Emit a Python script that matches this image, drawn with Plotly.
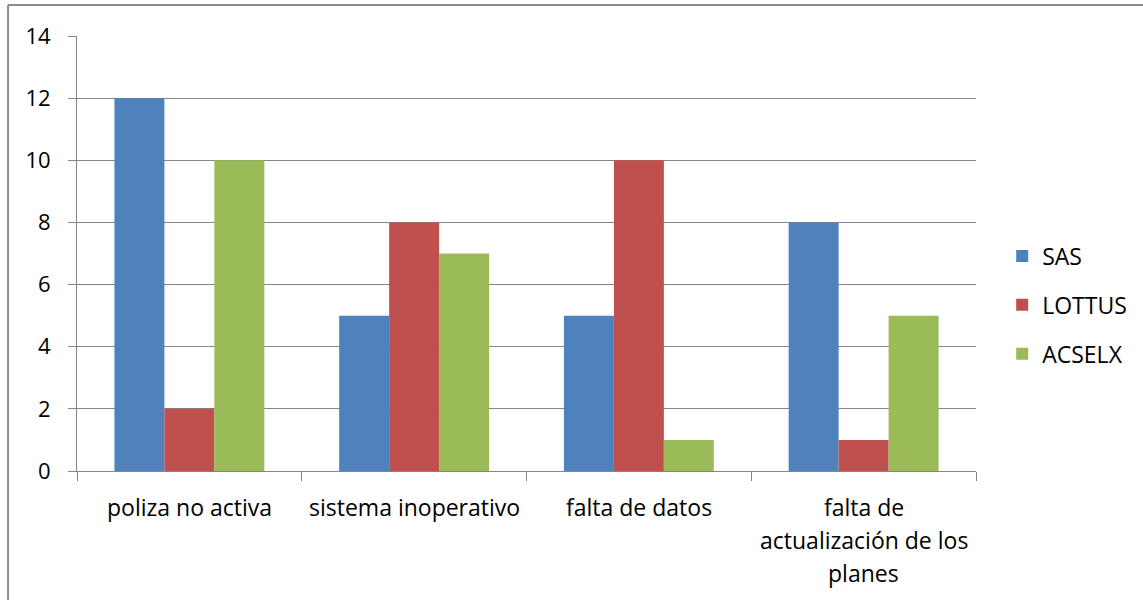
import plotly.graph_objects as go

categories = ["poliza no activa", "sistema inoperativo", "falta de datos",
              "falta de actualización de los planes"]
category_lines = [["poliza no activa"], ["sistema inoperativo"], ["falta de datos"],
                  ["falta de", "actualización de los", "planes"]]
sas = [12, 5, 5, 8]
lottus = [2, 8, 10, 1]
acselx = [10, 7, 1, 5]
series_names = ["SAS", "LOTTUS", "ACSELX"]
series_colors = ["#4F81BD", "#C0504D", "#9BBB59"]
y_ticks = [0, 2, 4, 6, 8, 10, 12, 14]

FONT = "Open Sans"
FS = 23
W, H = 1143, 600
L, R, T, B = 77, 977, 36, 471

fig = go.Figure()
for name, vals, col in zip(series_names, [sas, lottus, acselx], series_colors):
    fig.add_trace(go.Bar(name=name, x=categories, y=vals, marker_color=col,
                         marker_line_width=0, legendgroup=name))

annotations = []
for cat, lines in zip(categories, category_lines):
    for i, line in enumerate(lines):
        annotations.append(dict(x=cat, xref="x", y=0, yref="y", text=line,
                                showarrow=False, yanchor="middle",
                                yshift=-(36 + 33 * i),
                                font=dict(family=FONT, size=FS, color="#000000")))

def px_x(px):
    return (px - L) / (R - L)

def px_y(py):
    return (B - py) / (B - T)

shapes = [
    dict(type="line", xref="paper", yref="paper", x0=px_x(8), x1=px_x(8),
         y0=px_y(5), y1=px_y(605), line=dict(color="#8C8C8C", width=2)),
    dict(type="line", xref="paper", yref="paper", x0=px_x(8), x1=px_x(1150),
         y0=px_y(5), y1=px_y(5), line=dict(color="#8C8C8C", width=2)),
]

fig.update_layout(
    width=W, height=H,
    margin=dict(l=L, r=W - R, t=T, b=H - B, pad=0),
    paper_bgcolor="white", plot_bgcolor="white",
    barmode="group", bargap=0.333, bargroupgap=0,
    font=dict(family=FONT, size=FS, color="#000000"),
    showlegend=True,
    legend=dict(x=1.028, xanchor="left", y=px_y(305), yanchor="middle",
                tracegroupgap=16, font=dict(family=FONT, size=FS),
                itemwidth=30, bgcolor="rgba(0,0,0,0)"),
    annotations=annotations,
    shapes=shapes,
)
fig.update_xaxes(showticklabels=False, ticks="outside", tickson="boundaries",
                 ticklen=9, tickcolor="#868686", showline=True,
                 linecolor="#868686", linewidth=1, showgrid=False)
fig.update_yaxes(range=[0, 14], tickvals=y_ticks, ticks="outside", ticklen=8,
                 tickcolor="#868686", showline=True, linecolor="#868686",
                 linewidth=1, showgrid=True, gridcolor="#868686", gridwidth=1,
                 zeroline=False, ticklabelstandoff=13,
                 tickfont=dict(family=FONT, size=22))

fig.write_html("out.html", config={"displayModeBar": False},
               post_script="document.body.style.margin='0';")
